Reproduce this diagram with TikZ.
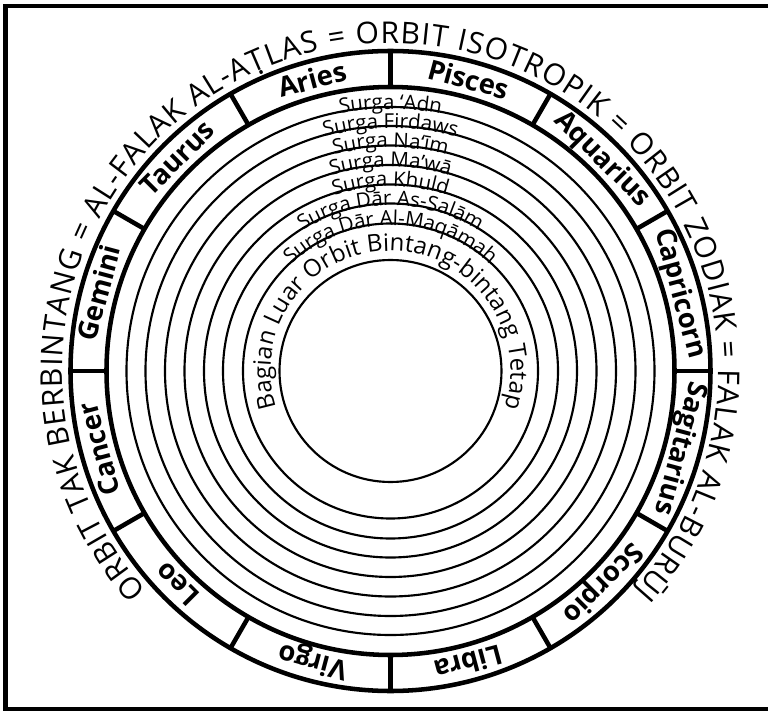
\documentclass[tikz,border=0pt]{standalone}
\usepackage{fontspec}
\setmainfont{Open Sans}
\usetikzlibrary{decorations.text}
\newcommand\zodiakfont{\fontsize{20.5}{24}\selectfont\bfseries}
\newcommand\falakfont{\fontsize{22.5}{26}\selectfont}
\newcommand\surgafont{\fontsize{15.4}{18}\selectfont}
\newcommand\bintangfont{\fontsize{18}{21}\selectfont}
\newcommand\tdotbelow{\ooalign{T\cr\hidewidth\raisebox{-.14em}{.}\hidewidth\cr}}

\begin{document}
\begin{tikzpicture}[x=0.75pt,y=0.75pt,
  thickline/.style={line width=3.4pt},
  thinline/.style={line width=1.6pt},
  zlabel/.style={font=\zodiakfont, inner sep=0pt, anchor=base}]
\useasboundingbox (-390.5,-340) rectangle (377.5,371);
% frame
\draw [thickline] (-385.2,-338) rectangle (400,365.2);
% zodiac ring
\draw [thickline] (0,0) circle [radius=320];
\draw [thickline] (0,0) circle [radius=284];
\foreach \a in {0,30,...,330}
  \draw [thickline] (\a:284) -- (\a:320);
% heaven spheres
\draw [thinline] (0,0) circle [radius=264];
\draw [thinline] (0,0) circle [radius=245];
\draw [thinline] (0,0) circle [radius=225.5];
\draw [thinline] (0,0) circle [radius=206];
\draw [thinline] (0,0) circle [radius=186.5];
\draw [thinline] (0,0) circle [radius=167.5];
\draw [thinline] (0,0) circle [radius=147.5];
\draw [thinline] (0,0) circle [radius=111];
% zodiac names
\node [zlabel, rotate=15] (aries) at (105:292) {Aries};
\node [zlabel, rotate=45] (taurus) at (135:292) {Taurus};
\node [zlabel, rotate=75] (gemini) at (165:292) {Gemini};
\node [zlabel, rotate=105] (cancer) at (195:292) {Cancer};
\node [zlabel, rotate=135] (leo) at (225:292) {Leo};
\node [zlabel, rotate=165] (virgo) at (255:292) {Virgo};
\node [zlabel, rotate=195] (libra) at (285:292) {Libra};
\node [zlabel, rotate=225] (scorpio) at (315:292) {Scorpio};
\node [zlabel, rotate=255] (sagitarius) at (345:292) {Sagitarius};
\node [zlabel, rotate=-75] (capricorn) at (15:292) {Capricorn};
\node [zlabel, rotate=-45] (aquarius) at (45:292) {Aquarius};
\node [zlabel, rotate=-15] (pisces) at (75:292) {Pisces};
% outer name
\path [decorate, decoration={text along path, text align=fit to path,
  text={|\falakfont|ORBIT TAK BERBINTANG = AL-FALAK AL-A{\tdotbelow}LAS = ORBIT ISOTROPIK = ORBIT ZODIAK = FALAK AL-BURŪJ}}]
  (222:328) arc [start angle=222, end angle=-42, radius=328];
% surga names
\path [decorate, decoration={text along path, text align=center, raise=-1.5pt, text={|\surgafont|Surga ‘Adn}}]
  (180:264) arc [start angle=180, end angle=0, radius=264];
\path [decorate, decoration={text along path, text align=center, raise=-1.5pt, text={|\surgafont|Surga Firdaws}}]
  (180:245) arc [start angle=180, end angle=0, radius=245];
\path [decorate, decoration={text along path, text align=center, raise=-1.5pt, text={|\surgafont|Surga Na‘īm}}]
  (180:225.5) arc [start angle=180, end angle=0, radius=225.5];
\path [decorate, decoration={text along path, text align=center, raise=-1.5pt, text={|\surgafont|Surga Ma’wā}}]
  (180:206) arc [start angle=180, end angle=0, radius=206];
\path [decorate, decoration={text along path, text align=center, raise=-1.5pt, text={|\surgafont|Surga Khuld}}]
  (180:186.5) arc [start angle=180, end angle=0, radius=186.5];
\path [decorate, decoration={text along path, text align=center, raise=-1.5pt, text={|\surgafont|Surga Dār As-Salām}}]
  (180:167.5) arc [start angle=180, end angle=0, radius=167.5];
\path [decorate, decoration={text along path, text align=center, raise=-1.5pt, text={|\surgafont|Surga Dār Al-Maqāmah}}]
  (180:147.5) arc [start angle=180, end angle=0, radius=147.5];
\path [decorate, decoration={text along path, text align=center, text={|\bintangfont|Bagian Luar Orbit Bintang-bintang Tetap}}]
  (215:120) arc [start angle=215, end angle=-35, radius=120];
\end{tikzpicture}
\end{document}
